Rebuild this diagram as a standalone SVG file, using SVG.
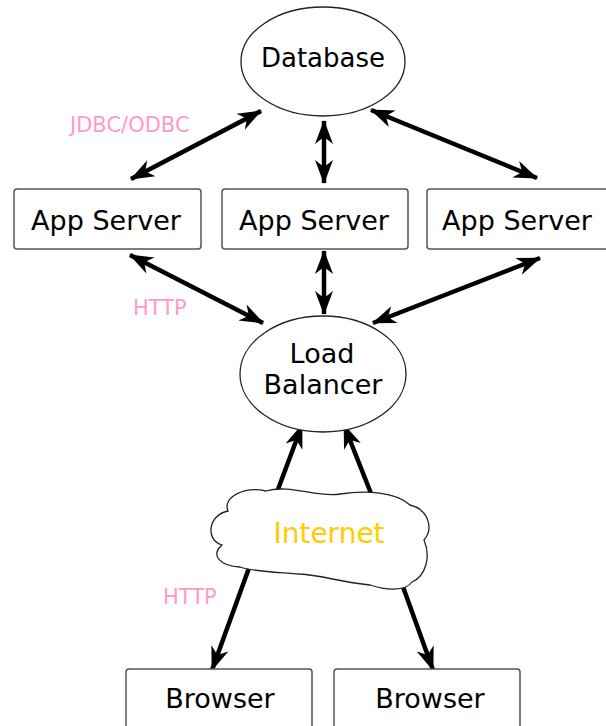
<svg xmlns="http://www.w3.org/2000/svg" width="606" height="726" viewBox="0 0 606 726">
<style>
.node{fill:#fff;stroke:#222;stroke-width:1.3}
.box{fill:#fff;stroke:#555;stroke-width:1.5}
.t{font-family:"DejaVu Sans",sans-serif;font-size:27px;fill:#000;text-anchor:middle}
.lbl{font-family:"DejaVu Sans",sans-serif;font-size:21px;fill:#FF99CC;text-anchor:start}
.c{stroke:#000;stroke-width:4.5;fill:none}
</style>
<defs>
<marker id="ah" markerUnits="userSpaceOnUse" markerWidth="28" markerHeight="22" viewBox="-24 -11 26 22" refX="0" refY="0" orient="auto-start-reverse">
<path d="M1,0 L-23,-9 L-16,0 L-23,9 Z" fill="#000"/>
</marker>
</defs>
<g id="connectors">
<line class="c" x1="131" y1="179" x2="261" y2="111" marker-start="url(#ah)" marker-end="url(#ah)"/>
<line class="c" x1="324" y1="183" x2="324" y2="121" marker-start="url(#ah)" marker-end="url(#ah)"/>
<line class="c" x1="537" y1="178" x2="371" y2="110" marker-start="url(#ah)" marker-end="url(#ah)"/>
<line class="c" x1="130" y1="255" x2="263" y2="323" marker-start="url(#ah)" marker-end="url(#ah)"/>
<line class="c" x1="324" y1="251" x2="324" y2="314" marker-start="url(#ah)" marker-end="url(#ah)"/>
<line class="c" x1="540" y1="258" x2="373" y2="323" marker-start="url(#ah)" marker-end="url(#ah)"/>
<line class="c" x1="277" y1="492" x2="302" y2="425" marker-end="url(#ah)"/>
<line class="c" x1="372" y1="496" x2="344" y2="425" marker-end="url(#ah)"/>
<line class="c" x1="249" y1="568" x2="212" y2="670" marker-end="url(#ah)"/>
<line class="c" x1="402" y1="584" x2="433" y2="670" marker-end="url(#ah)"/>
</g>
<g id="database">
<ellipse class="node" cx="323" cy="61.5" rx="82" ry="54.5"/>
<text class="t" x="323" y="67" style="font-size:26px">Database</text>
</g>
<g id="app1">
<rect class="box" x="14" y="189" width="187" height="60" rx="3"/>
<text class="t" x="106" y="230">App Server</text>
</g>
<g id="app2">
<rect class="box" x="222" y="189" width="186" height="60" rx="3"/>
<text class="t" x="314" y="230">App Server</text>
</g>
<g id="app3">
<rect class="box" x="427" y="189" width="185" height="60" rx="3"/>
<text class="t" x="517" y="230">App Server</text>
</g>
<g id="loadbalancer">
<ellipse class="node" cx="323" cy="374" rx="83" ry="58"/>
<text class="t" x="322" y="363">Load</text>
<text class="t" x="323" y="394">Balancer</text>
</g>
<g id="internet">
<path class="node" d="M222,545 C205,540 208,515 228,511 C222,497 245,486 266,491 C290,484 318,498 340,494 C366,490 396,492 410,505 C430,510 433,530 424,540 C431,556 426,576 412,582 C405,592 385,590 370,585 C340,582 320,575 300,574 C275,572 255,572 240,567 C220,566 210,555 222,545 Z"/>
<text class="t" x="329" y="543" style="fill:#FFCC00;font-size:28px">Internet</text>
</g>
<g id="browser1">
<rect class="box" x="126" y="669" width="186" height="70" rx="3"/>
<text class="t" x="220" y="708">Browser</text>
</g>
<g id="browser2">
<rect class="box" x="334" y="669" width="186" height="70" rx="3"/>
<text class="t" x="430" y="708">Browser</text>
</g>
<g id="labels">
<text class="lbl" x="70" y="132">JDBC/ODBC</text>
<text class="lbl" x="133" y="315">HTTP</text>
<text class="lbl" x="163" y="604">HTTP</text>
</g>
</svg>
